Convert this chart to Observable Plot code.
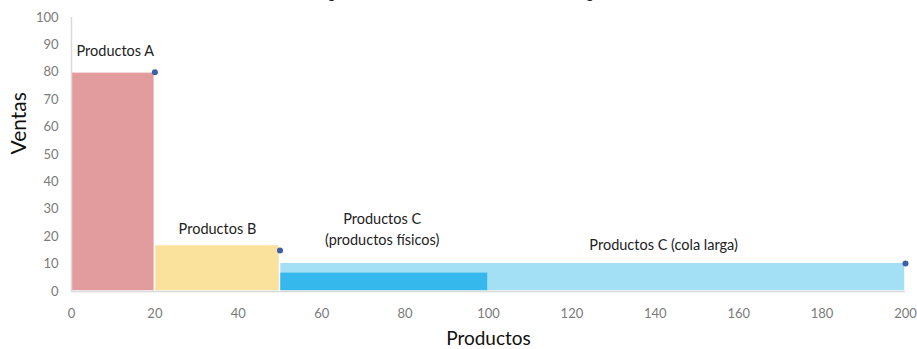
<!DOCTYPE html>
<html><head><meta charset="utf-8">
<script src="https://cdn.jsdelivr.net/npm/d3@7"></script>
<script src="https://cdn.jsdelivr.net/npm/@observablehq/plot@0.6"></script>
<style>
html,body{margin:0;padding:0;background:#fff;overflow:hidden;}
#wrap{position:relative;width:917px;height:349px;}
#title{position:absolute;top:-17px;left:0;width:917px;text-align:center;font:15px Lato,sans-serif;color:#222;}
</style></head>
<body><div id="wrap"><div id="title">Figura 1. Gráfica de la teoría de la cola larga</div><div id="chart"></div></div>
<script>
// Bars (segments of the long tail)
const barNames = ["Productos A", "Productos B", "Productos C (cola larga)", "Productos C (productos físicos)"];
const barX1 = [0, 20, 50, 50];
const barX2 = [20, 50, 200, 100];
const barY = [80, 17, 10.5, 7];
const barColors = ["#e39c9e", "#fbe29c", "#a3dff5", "#35b9ec"];
// Curve points
const ptX = [20, 50, 200];
const ptY = [80, 15, 10.2];
// Labels
const labelText = ["Productos A", "Productos B", "Productos C", "(productos físicos)", "Productos C (cola larga)"];
const labelX = [10.5, 35, 74.5, 74.5, 142];
const labelY = [87.5, 22.5, 26.5, 18.5, 17];
const xTicks = [0, 20, 40, 60, 80, 100, 120, 140, 160, 180, 200];
const yTicks = [0, 10, 20, 30, 40, 50, 60, 70, 80, 90, 100];

const bars = barNames.map((n, i) => ({name: n, x1: barX1[i], x2: barX2[i], y: barY[i], color: barColors[i]}));
const pts = ptX.map((x, i) => ({x, y: ptY[i]}));
const labels = labelText.map((t, i) => ({t, x: labelX[i], y: labelY[i]}));

const chart = Plot.plot({
  width: 917, height: 349,
  marginLeft: 71, marginRight: 12, marginTop: 17, marginBottom: 58,
  style: {fontFamily: "Lato, sans-serif", background: "#fff"},
  x: {domain: [0, 200], ticks: xTicks, label: null},
  y: {domain: [0, 100], ticks: yTicks, label: null},
  marks: [
    Plot.rectY(bars, {x1: "x1", x2: "x2", y1: 0, y2: "y", fill: "color", inset: 0.8}),
    Plot.ruleY([0], {stroke: "#d9d9d9", strokeWidth: 1.5}),
    Plot.ruleX([0], {stroke: "#d9d9d9", strokeWidth: 1.5}),
    Plot.dot(pts, {x: "x", y: "y", r: 3, fill: "#3d5fa8"}),
    Plot.text(labels, {x: "x", y: "y", text: "t", fontSize: 14.5, fill: "#222"}),
    Plot.axisX({ticks: xTicks, tickSize: 0, tickPadding: 17, fontSize: 13, color: "#7a7a7a", label: null}),
    Plot.axisY({ticks: yTicks, tickSize: 0, tickPadding: 13, fontSize: 13, color: "#7a7a7a", label: null}),
    Plot.text(["Productos"], {frameAnchor: "bottom", dy: 53, fontSize: 19, fill: "#111"}),
    Plot.text(["Ventas"], {frameAnchor: "left", dx: -52, rotate: -90, fontSize: 21, fill: "#111"})
  ]
});
document.getElementById("chart").appendChild(chart);
</script>
</body></html>
